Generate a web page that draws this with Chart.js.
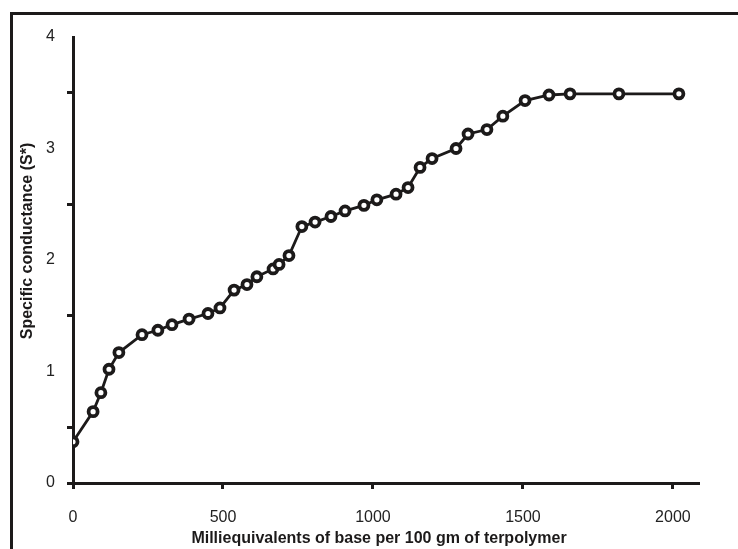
<!DOCTYPE html>
<html>
<head>
<meta charset="utf-8">
<script src="https://cdn.jsdelivr.net/npm/chart.js@4.4.1/dist/chart.umd.min.js"></script>
<style>
  html, body { margin: 0; padding: 0; background: #fff; }
  #wrap { width: 738px; height: 549px; }
</style>
</head>
<body>
<div id="wrap"><canvas id="chart" width="738" height="549"></canvas></div>
<script>
// base added (meq / 100 g terpolymer) and specific conductance
const baseAdded = [0, 67, 93, 120, 153, 230, 283, 330, 387, 450, 490, 537, 580, 613, 667, 687, 720,
  763, 807, 860, 907, 970, 1013, 1077, 1117, 1157, 1197, 1277, 1317, 1380, 1433, 1507, 1587, 1657, 1820, 2020];
const conductance = [0.37, 0.64, 0.81, 1.02, 1.17, 1.33, 1.37, 1.42, 1.47, 1.52, 1.57, 1.73, 1.78, 1.85, 1.92, 1.96, 2.04,
  2.30, 2.34, 2.39, 2.44, 2.49, 2.54, 2.59, 2.65, 2.83, 2.91, 3.00, 3.13, 3.17, 3.29, 3.43, 3.48, 3.49, 3.49, 3.49];
const xTickValues = [0, 500, 1000, 1500, 2000];
const yTickValues = [0, 0.5, 1, 1.5, 2, 2.5, 3, 3.5, 4];
const xTitle = "Milliequivalents of base per 100 gm of terpolymer";
const yTitle = "Specific conductance (S*)";

const ink = "#1c1a1a";
const points = baseAdded.map(function (x, i) { return { x: x, y: conductance[i] }; });

// outer frame and the axis titles
const decorations = {
  id: "decorations",
  beforeDraw: function (chart) {
    const ctx = chart.ctx;
    ctx.save();
    ctx.strokeStyle = ink;
    ctx.lineWidth = 3;
    ctx.beginPath();
    ctx.moveTo(738, 13.5);
    ctx.lineTo(11.5, 13.5);
    ctx.lineTo(11.5, 549);
    ctx.stroke();
    ctx.restore();
  },
  afterDraw: function (chart) {
    const ctx = chart.ctx;
    ctx.save();
    ctx.fillStyle = ink;
    ctx.font = "bold 16px 'Liberation Sans', Arial, sans-serif";
    ctx.textAlign = "center";
    ctx.textBaseline = "middle";
    ctx.fillText(xTitle, 379, 539);
    ctx.translate(28, 241);
    ctx.rotate(-Math.PI / 2);
    ctx.fillText(yTitle, 0, 0);
    ctx.restore();
  }
};

new Chart(document.getElementById("chart").getContext("2d"), {
  type: "line",
  data: {
    datasets: [{
      data: points,
      borderColor: ink,
      borderWidth: 2.8,
      pointRadius: 4.5,
      pointBorderWidth: 3.8,
      pointBackgroundColor: "#fff",
      pointBorderColor: ink,
      tension: 0
    }]
  },
  options: {
    responsive: false,
    animation: false,
    layout: { padding: { left: 0, top: 37, right: 39, bottom: 0 } },
    plugins: { legend: { display: false }, tooltip: { enabled: false } },
    scales: {
      x: {
        type: "linear",
        min: 0,
        max: 2087,
        afterFit: function (scale) { scale.height = 66; },
        afterBuildTicks: function (scale) {
          scale.ticks = xTickValues.map(function (v) { return { value: v }; });
        },
        ticks: {
          color: "#222",
          padding: 19,
          font: { family: "'Liberation Sans', Arial, sans-serif", size: 16 },
          callback: function (v) { return String(v); }
        },
        grid: { drawOnChartArea: false, tickLength: 6, tickWidth: 3, tickColor: ink },
        border: { color: ink, width: 3 }
      },
      y: {
        min: 0,
        max: 4,
        afterFit: function (scale) { scale.width = 73; },
        afterBuildTicks: function (scale) {
          scale.ticks = yTickValues.map(function (v) { return { value: v }; });
        },
        ticks: {
          color: "#222",
          padding: 12,
          font: { family: "'Liberation Sans', Arial, sans-serif", size: 16 },
          callback: function (v) { return Number.isInteger(v) ? String(v) : ""; }
        },
        grid: {
          drawOnChartArea: false,
          tickLength: 6,
          tickWidth: 3,
          tickColor: function (c) {
            const v = c.tick.value;
            return (Number.isInteger(v) && v !== 0) ? "rgba(0,0,0,0)" : ink;
          }
        },
        border: { color: ink, width: 3 }
      }
    }
  },
  plugins: [decorations]
});
</script>
</body>
</html>
